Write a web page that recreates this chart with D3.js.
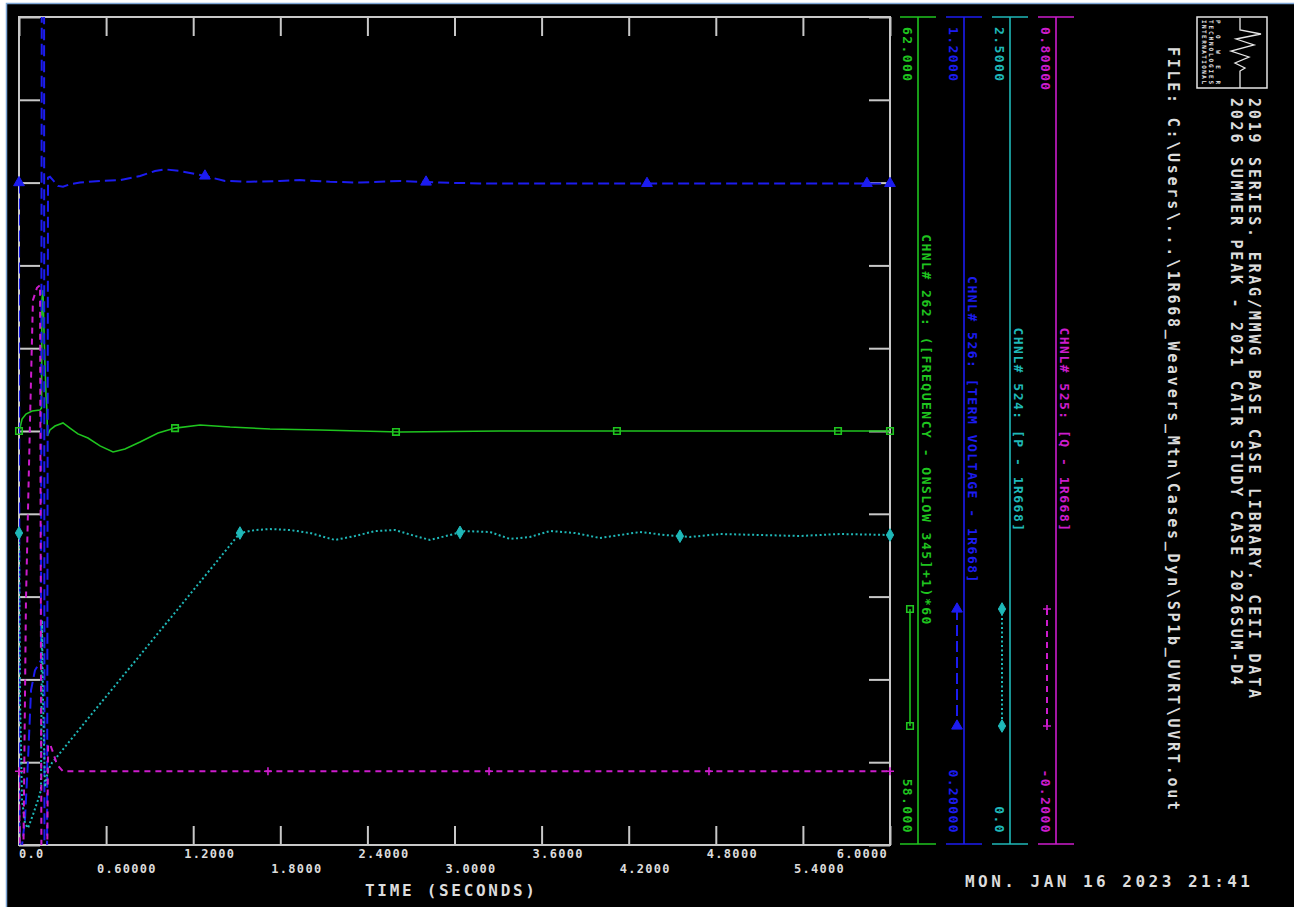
<!DOCTYPE html>
<html lang="en">
<head>
<meta charset="UTF-8">
<title>UVRT - 1R668 channel plot</title>
<script src="https://cdnjs.cloudflare.com/ajax/libs/d3/7.8.5/d3.min.js"></script>
<style>
  body { margin: 0; background: #fff; overflow: hidden; }
  svg { display: block; }
  text { font-family: "DejaVu Sans Mono", "Liberation Mono", monospace; fill: #dcdcdc; font-weight: bold; }
  .frame line { stroke: #c8c8c8; stroke-width: 2; }
  .frame .domain { display: none; }
</style>
</head>
<body>
<div id="chart"></div>
<script>
// ---- data ----
const timeTicks = [0, 0.6, 1.2, 1.8, 2.4, 3.0, 3.6, 4.2, 4.8, 5.4, 6.0];
const timeTickLabels = ["0.0", "0.60000", "1.2000", "1.8000", "2.4000", "3.0000",
                        "3.6000", "4.2000", "4.8000", "5.4000", "6.0000"];

// channel 262 : frequency (Hz)
const freqRange = [58, 62];
const freqTime = [0, 0.007, 0.021, 0.048, 0.09, 0.145, 0.155, 0.158, 0.165, 0.172, 0.179, 0.186,
  0.193, 0.196, 0.213, 0.248, 0.303, 0.351, 0.406, 0.475, 0.558, 0.648, 0.730, 0.834, 0.958,
  1.075, 1.247, 1.454, 1.729, 2.073, 2.625, 3.313, 6.0];
const freqHz = [60.0, 60.015, 60.058, 60.082, 60.097, 60.101, 60.111, 60.633, 60.681, 60.488, 60.314, 60.174,
  60.092, 59.976, 60.005, 60.024, 60.039, 60.014, 59.986, 59.966, 59.928, 59.899, 59.913, 59.947, 59.99,
  60.014, 60.029, 60.019, 60.01, 60.005, 59.995, 60.0, 60.0];
const freqMarks = [0, 1.075, 2.597, 4.119, 5.642, 6.0];

// channel 526 : terminal voltage (pu)
const voltRange = [0.2, 1.2];
const voltTime = [0, 0.0034, 0.021, 0.041, 0.062, 0.083, 0.110, 0.1515, 0.1584, 0.1722, 0.1757, 0.1929,
  0.1998, 0.2135, 0.234, 0.269, 0.303, 0.351, 0.420, 0.558, 0.696, 0.834, 0.937, 1.006, 1.109,
  1.281, 1.419, 1.591, 1.798, 1.936, 2.142, 2.349, 2.625, 2.900, 3.176, 6.0];
const voltPu = [1.0, 0.19, 0.20, 0.23, 0.303, 0.387, 0.411, 0.423, 1.45, 1.42, 0.12, 0.12,
  1.006, 1.007, 1.003, 0.996, 0.995, 0.998, 1.0, 1.002, 1.003, 1.008, 1.014, 1.016, 1.014,
  1.008, 1.002, 1.001, 1.002, 1.003, 1.001, 1.0, 1.002, 1.0, 0.999, 0.999];
const voltMarks = [0, 1.281, 2.804, 4.326, 5.841, 6.0];

// channel 524 : P (pu)
const pRange = [0, 2.5];
const pTime = [0, 0.007, 0.021, 0.041, 0.062, 0.096, 0.131, 0.1515, 0.1584, 0.1653, 0.179, 0.200,
  0.227, 0.558, 0.903, 1.247, 1.522, 1.626, 1.729, 1.867, 2.005, 2.177, 2.315, 2.452, 2.590,
  2.728, 2.831, 2.969, 3.072, 3.245, 3.382, 3.520, 3.658, 3.830, 4.002, 4.140, 4.278, 4.450,
  4.622, 4.829, 5.104, 5.380, 5.656, 6.0];
const pPu = [0.942, 0.438, 0.136, 0.066, 0.051, 0.091, 0.136, 0.166, 0.679, 0.438, 0.175, 0.226,
  0.248, 0.426, 0.610, 0.794, 0.942, 0.951, 0.954, 0.951, 0.942, 0.921, 0.933, 0.948, 0.951,
  0.933, 0.921, 0.936, 0.948, 0.945, 0.924, 0.930, 0.948, 0.942, 0.927, 0.936, 0.945, 0.936,
  0.930, 0.939, 0.936, 0.933, 0.939, 0.936];
const pMarks = [0, 1.522, 3.038, 4.553, 6.0];

// channel 525 : Q (pu)
const qRange = [-0.2, 0.8];
const qTime = [0, 0.007, 0.028, 0.048, 0.076, 0.096, 0.124, 0.145, 0.155, 0.193, 0.200, 0.2135,
  0.234, 0.262, 0.303, 6.0];
const qPu = [-0.111, -0.25, -0.25, 0.096, 0.313, 0.458, 0.473, 0.476, -0.25, -0.25, -0.079, -0.078,
  -0.088, -0.103, -0.111, -0.111];
const qMarks = [0, 1.715, 3.238, 4.753, 6.0];

const channelLabels = [
  "CHNL# 262: ([FREQUENCY - ONSLOW 345]+1)*60",
  "CHNL# 526: [TERM VOLTAGE - 1R668]",
  "CHNL# 524: [P - 1R668]",
  "CHNL# 525: [Q - 1R668]"
];
const topLabels = ["62.000", "1.2000", "2.5000", "0.80000"];
const bottomLabels = ["58.000", "0.20000", "0.0", "-0.2000"];
const titleLines = [
  "2019 SERIES. ERAG/MMWG BASE CASE LIBRARY. CEII DATA",
  "2026 SUMMER PEAK - 2021 CATR STUDY CASE 2026SUM-D4"
];
const fileLine = "FILE: C:\\Users\\...\\1R668_Weavers_Mtn\\Cases_Dyn\\SP1b_UVRT\\UVRT.out";
const dateLine = "MON. JAN 16 2023  21:41";
const xTitle = "TIME (SECONDS)";

// ---- layout ----
const W = 1294, H = 907;
const plot = { left: 19, right: 890, top: 17, bottom: 845 };

const svg = d3.select("#chart").append("svg").attr("width", W).attr("height", H);
svg.append("rect").attr("width", W).attr("height", H).attr("fill", "#fff");
svg.append("rect").attr("x", 6.5).attr("y", 3.5).attr("width", W - 5).attr("height", H - 2)
  .attr("fill", "#000").attr("stroke", "#7ea6d6").attr("stroke-width", 1.5);

const x = d3.scaleLinear().domain([0, 6]).range([plot.left, plot.right]);
const yRange = [plot.bottom, plot.top];

const channels = [
  { times: freqTime, values: freqHz, domain: freqRange, marks: freqMarks, color: "#1fc41f",
    dash: null, width: 1.6, marker: "square", lineX: 918, sampleX: 910 },
  { times: voltTime, values: voltPu, domain: voltRange, marks: voltMarks, color: "#1c1cf0",
    dash: "11,5", width: 2, marker: "triangle", lineX: 964, sampleX: 957 },
  { times: pTime, values: pPu, domain: pRange, marks: pMarks, color: "#1fb8b8",
    dash: "2,2.5", width: 2, marker: "diamond", lineX: 1010, sampleX: 1002 },
  { times: qTime, values: qPu, domain: qRange, marks: qMarks, color: "#cc1ccc",
    dash: "6,5", width: 2, marker: "plus", lineX: 1056, sampleX: 1047 }
];
channels.forEach(c => { c.y = d3.scaleLinear().domain(c.domain).range(yRange); });

// ---- frame and ticks ----
const frame = svg.append("g").attr("class", "frame");
const yTicks = d3.range(11).map(i => freqRange[0] + i * (freqRange[1] - freqRange[0]) / 10);
const yF = channels[0].y;

frame.append("g").attr("transform", `translate(0,${plot.bottom})`)
  .call(d3.axisTop(x).tickValues(timeTicks).tickSize(19).tickFormat(""));
frame.append("g").attr("transform", `translate(0,${plot.top})`)
  .call(d3.axisBottom(x).tickValues(timeTicks).tickSize(19).tickFormat(""));
frame.append("g").attr("transform", `translate(${plot.left},0)`)
  .call(d3.axisRight(yF).tickValues(yTicks).tickSize(21).tickFormat(""));
frame.append("g").attr("transform", `translate(${plot.right},0)`)
  .call(d3.axisLeft(yF).tickValues(yTicks).tickSize(21).tickFormat(""));
frame.append("rect")
  .attr("x", plot.left).attr("y", plot.top)
  .attr("width", plot.right - plot.left).attr("height", plot.bottom - plot.top)
  .attr("fill", "none").attr("stroke", "#c8c8c8").attr("stroke-width", 2);

// x tick labels, staggered on two rows
svg.append("g").selectAll("text")
  .data(timeTicks)
  .join("text")
  .attr("x", (d, i) => i === 0 ? plot.left : (i === timeTicks.length - 1 ? plot.right - 2 : x(d) - 9))
  .attr("y", (d, i) => i % 2 === 0 ? 858 : 873)
  .attr("text-anchor", (d, i) => i === timeTicks.length - 1 ? "end" : "start")
  .style("font-size", "12px")
  .attr("letter-spacing", 1.3)
  .text((d, i) => timeTickLabels[i]);

svg.append("text")
  .attr("x", 365).attr("y", 896)
  .attr("textLength", 170).attr("lengthAdjust", "spacing")
  .style("font-size", "16px")
  .text(xTitle);

// ---- traces ----
svg.append("clipPath").attr("id", "plot-clip")
  .append("rect")
  .attr("x", plot.left).attr("y", plot.top)
  .attr("width", plot.right - plot.left).attr("height", plot.bottom - plot.top);

const traces = svg.append("g").attr("clip-path", "url(#plot-clip)");

function markerPath(type) {
  if (type === "square") return d3.symbol(d3.symbolSquare, 42)();
  if (type === "triangle") return d3.symbol(d3.symbolTriangle, 50)();
  if (type === "diamond") return d3.symbol(d3.symbolDiamond, 46)();
  return "M-4,0H4M0,-4V4";
}
function styleMarker(sel, c) {
  const open = c.marker === "square" || c.marker === "plus";
  sel.attr("d", markerPath(c.marker))
    .attr("fill", open ? "none" : c.color)
    .attr("stroke", c.color)
    .attr("stroke-width", open ? 1.6 : 1);
}

channels.forEach(c => {
  const pts = d3.zip(c.times, c.values);
  const line = d3.line().x(d => x(d[0])).y(d => c.y(d[1]));
  traces.append("path")
    .datum(pts)
    .attr("d", line)
    .attr("fill", "none")
    .attr("stroke", c.color)
    .attr("stroke-width", c.width)
    .attr("stroke-dasharray", c.dash);
});

// markers sit on the traces
const markG = svg.append("g");
channels.forEach(c => {
  const along = d3.scaleLinear().domain(c.times).range(c.values);
  markG.append("g").selectAll("path")
    .data(c.marks)
    .join("path")
    .attr("transform", t => `translate(${x(t)},${c.y(along(t))})`)
    .call(styleMarker, c);
});

// ---- legend columns (rotated) ----
function vtext(g, px, py, str, opts) {
  const t = g.append("text")
    .attr("transform", `translate(${px},${py}) rotate(90)`)
    .attr("text-anchor", opts.anchor || "start")
    .style("font-size", (opts.size || 13) + "px")
    .style("fill", opts.color || "#dcdcdc")
    .text(str);
  if (opts.length) t.attr("textLength", opts.length).attr("lengthAdjust", "spacing");
  else t.attr("letter-spacing", opts.spacing == null ? 1.4 : opts.spacing);
  return t;
}

const legend = svg.append("g");
channels.forEach((c, i) => {
  const g = legend.append("g");
  g.append("line").attr("x1", c.lineX).attr("x2", c.lineX)
    .attr("y1", plot.top).attr("y2", plot.bottom - 1)
    .attr("stroke", c.color).attr("stroke-width", 1.6);
  [plot.top, plot.bottom - 1].forEach(yy => {
    g.append("line").attr("x1", c.lineX - 18).attr("x2", c.lineX + 18)
      .attr("y1", yy).attr("y2", yy)
      .attr("stroke", c.color).attr("stroke-width", 1.6);
  });
  vtext(g, c.lineX - 15, 27, topLabels[i], { color: c.color });
  vtext(g, c.lineX - 15, 834, bottomLabels[i], { color: c.color, anchor: "end" });
  vtext(g, c.lineX + 4, 430, channelLabels[i], { color: c.color, anchor: "middle", spacing: 1.5 });

  // sample of the line style
  g.append("line").attr("x1", c.sampleX).attr("x2", c.sampleX)
    .attr("y1", 609).attr("y2", 726)
    .attr("stroke", c.color).attr("stroke-width", c.width)
    .attr("stroke-dasharray", c.dash);
  g.selectAll("path.m").data([609, 726]).join("path").attr("class", "m")
    .attr("transform", yy => `translate(${c.sampleX},${yy})`)
    .call(styleMarker, c);
});

// ---- title block ----
vtext(svg, 1249, 98, titleLines[0], { length: 600, size: 15 });
vtext(svg, 1231, 98, titleLines[1], { length: 587, size: 15 });
vtext(svg, 1168, 47, fileLine, { length: 763, size: 15 });

svg.append("text")
  .attr("x", 965).attr("y", 887)
  .attr("textLength", 285).attr("lengthAdjust", "spacing")
  .style("font-size", "16px")
  .text(dateLine);

// logo box
const logo = svg.append("g");
logo.append("rect").attr("x", 1197).attr("y", 17).attr("width", 70).attr("height", 71)
  .attr("fill", "none").attr("stroke", "#e6e6e6").attr("stroke-width", 1.5);
logo.append("path")
  .attr("d", "M1240,18V30L1261,34L1236,39L1254,45L1231,51L1249,57L1235,63L1245,68L1240,71V88")
  .attr("fill", "none").attr("stroke", "#e6e6e6").attr("stroke-width", 1.3);
["POWER", "TECHNOLOGIES", "INTERNATIONAL"].forEach((s, i) => {
  vtext(logo, 1216 - i * 7, 20, s, { length: 64, size: 6, color: "#e6e6e6" });
});
</script>
</body>
</html>
